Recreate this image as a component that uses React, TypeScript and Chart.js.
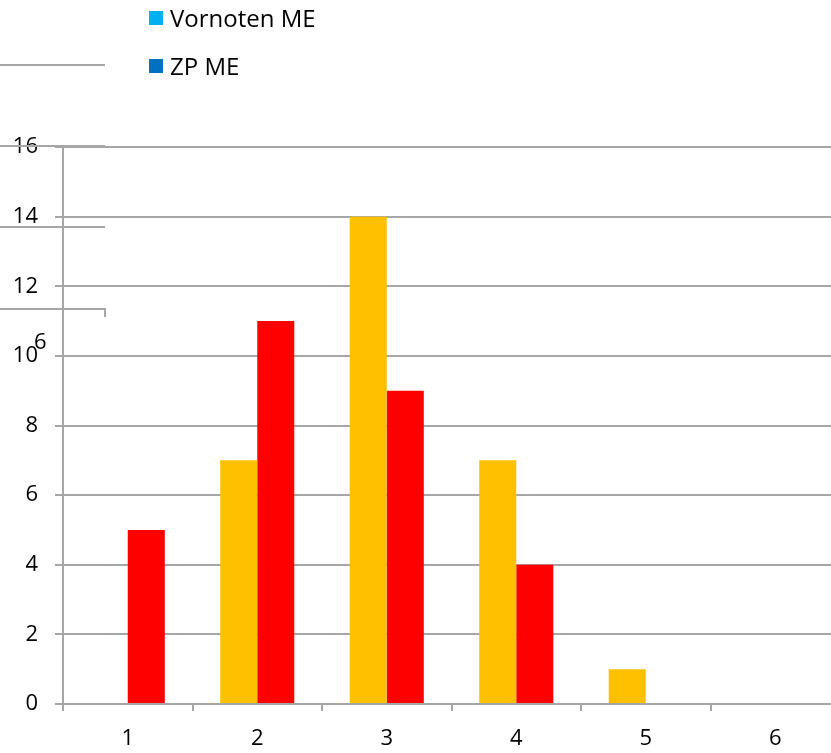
import React, { useEffect, useRef } from "react";
import { Chart, registerables } from "chart.js";

Chart.register(...registerables);

const categories = ["1", "2", "3", "4", "5", "6"];
const vornotenME = [0, 7, 14, 7, 1, 0];
const zpME = [5, 11, 9, 4, 0, 0];
const legendLabels = ["Vornoten ME", "ZP ME"];
const legendColors = ["#00B0F0", "#0070C0"];
const barColors = ["#FFC000", "#FF0000"];
const yMax = 16;
const yStep = 2;

const FONT = "'Open Sans', 'DejaVu Sans', sans-serif";
const GRID = "#a6a6a6";

export default function App() {
  const ref = useRef<HTMLCanvasElement | null>(null);

  useEffect(() => {
    if (!ref.current) return;
    const chart = new Chart(ref.current, {
      type: "bar",
      data: {
        labels: categories,
        datasets: [
          { label: legendLabels[0], data: vornotenME, backgroundColor: barColors[0] },
          { label: legendLabels[1], data: zpME, backgroundColor: barColors[1] },
        ],
      },
      options: {
        animation: false,
        responsive: false,
        maintainAspectRatio: false,
        layout: { padding: { top: 147, left: 0, right: 0, bottom: 0 } },
        datasets: { bar: { categoryPercentage: 0.572, barPercentage: 1.0 } },
        plugins: { legend: { display: false }, tooltip: { enabled: false } },
        scales: {
          x: {
            grid: {
              offset: true,
              drawOnChartArea: false,
              drawTicks: true,
              tickLength: 7,
              color: GRID,
              lineWidth: 2,
            },
            border: { color: GRID, width: 2 },
            ticks: { color: "#000", font: { family: FONT, size: 22 }, padding: 15 },
            afterFit: (s: any) => { s.height = 49; },
          },
          y: {
            min: 0,
            max: yMax,
            ticks: { stepSize: yStep, color: "#000", font: { family: FONT, size: 22 }, padding: 17 },
            grid: { color: GRID, lineWidth: 2, tickLength: 8 },
            border: { color: GRID, width: 2 },
            afterFit: (s: any) => { s.width = 63; },
          },
        },
      },
    });
    return () => chart.destroy();
  }, []);

  const line = (top: number, left: number, width: number): React.CSSProperties => ({
    position: "absolute", top, left, width, height: 2, background: GRID,
  });

  return (
    <div style={{ position: "fixed", left: 0, top: 0, width: 831, height: 753, background: "#fff", overflow: "hidden" }}>
      <canvas ref={ref} width={840} height={753} style={{ position: "absolute", left: 0, top: 0 }} />
      <div style={line(64, 0, 105)} />
      <div style={line(145, 0, 105)} />
      <div style={line(226, 0, 105)} />
      <div style={line(308, 0, 105)} />
      <div style={{ position: "absolute", top: 308, left: 104, width: 2, height: 9, background: GRID }} />
      <div style={{ position: "absolute", top: 326, left: 34, fontFamily: FONT, fontSize: 22, lineHeight: "28px", color: "#000" }}>6</div>
      {legendLabels.map((l, i) => (
        <div key={l} style={{ position: "absolute", left: 149, top: 2 + i * 48, display: "flex", alignItems: "center", fontFamily: FONT, fontSize: 24, lineHeight: "32px", color: "#000" }}>
          <span style={{ display: "inline-block", width: 14, height: 14, background: legendColors[i], marginRight: 7 }} />
          {l}
        </div>
      ))}
    </div>
  );
}
